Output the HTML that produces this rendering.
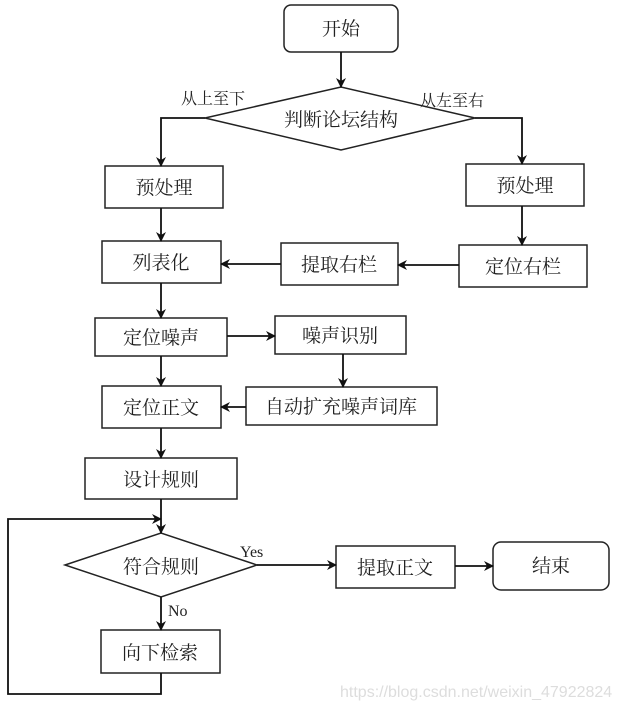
<!DOCTYPE html>
<html><head><meta charset="utf-8"><style>
html,body{margin:0;padding:0;background:#fff;}
svg{display:block;}
text{font-family:"Liberation Serif","Noto Serif CJK SC","Noto Sans CJK SC",serif;fill:#222;}
</style></head><body>
<svg width="620" height="709" viewBox="0 0 620 709" xmlns="http://www.w3.org/2000/svg">
<defs><marker id="a" markerWidth="10" markerHeight="10" refX="9" refY="5" orient="auto" markerUnits="userSpaceOnUse"><path d="M0,0 L10,5 L0,10 L3,5 z" fill="#111"/></marker></defs>
<g fill="none" stroke="#222" stroke-width="1.5">
<rect x="284" y="5" width="114" height="47" rx="7"/>
<polygon points="205,118 341,87 475,118 341,150"/>
<rect x="105" y="166" width="118" height="42"/>
<rect x="466" y="164" width="118" height="42"/>
<rect x="102" y="241" width="119" height="42"/>
<rect x="281" y="243" width="117" height="42"/>
<rect x="459" y="245" width="128" height="42"/>
<rect x="95" y="318" width="132" height="38"/>
<rect x="275" y="316" width="131" height="38"/>
<rect x="102" y="386" width="119" height="42"/>
<rect x="246" y="387" width="191" height="38"/>
<rect x="85" y="458" width="152" height="41"/>
<polygon points="65,565 161,533 257,565 161,597"/>
<rect x="336" y="546" width="119" height="42"/>
<rect x="493" y="542" width="116" height="48" rx="8"/>
<rect x="101" y="630" width="119" height="43"/>
</g>
<g fill="none" stroke="#111" stroke-width="1.8">
<line x1="341" y1="52" x2="341" y2="87" marker-end="url(#a)"/>
<polyline points="205,118 161,118 161,166" marker-end="url(#a)"/>
<polyline points="475,118 522,118 522,164" marker-end="url(#a)"/>
<line x1="161" y1="208" x2="161" y2="241" marker-end="url(#a)"/>
<line x1="522" y1="206" x2="522" y2="245" marker-end="url(#a)"/>
<line x1="459" y1="265" x2="398" y2="265" marker-end="url(#a)"/>
<line x1="281" y1="264" x2="221" y2="264" marker-end="url(#a)"/>
<line x1="161" y1="283" x2="161" y2="318" marker-end="url(#a)"/>
<line x1="227" y1="336" x2="275" y2="336" marker-end="url(#a)"/>
<line x1="343" y1="354" x2="343" y2="387" marker-end="url(#a)"/>
<line x1="161" y1="356" x2="161" y2="386" marker-end="url(#a)"/>
<line x1="246" y1="407" x2="221" y2="407" marker-end="url(#a)"/>
<line x1="161" y1="428" x2="161" y2="458" marker-end="url(#a)"/>
<line x1="161" y1="499" x2="161" y2="533" marker-end="url(#a)"/>
<polyline points="161,673 161,694 8,694 8,519 161,519" marker-end="url(#a)"/>
<line x1="161" y1="597" x2="161" y2="630" marker-end="url(#a)"/>
<line x1="257" y1="565" x2="336" y2="565" marker-end="url(#a)"/>
<line x1="455" y1="566" x2="493" y2="566" marker-end="url(#a)"/>
</g>
<g font-size="19" text-anchor="middle">
<text x="341" y="35">开始</text>
<text x="341" y="126">判断论坛结构</text>
<text x="164" y="194">预处理</text>
<text x="525" y="192">预处理</text>
<text x="161" y="269">列表化</text>
<text x="339" y="271">提取右栏</text>
<text x="523" y="273">定位右栏</text>
<text x="161" y="344">定位噪声</text>
<text x="340" y="342">噪声识别</text>
<text x="161" y="414">定位正文</text>
<text x="341" y="413">自动扩充噪声词库</text>
<text x="161" y="486">设计规则</text>
<text x="161" y="573">符合规则</text>
<text x="395" y="574">提取正文</text>
<text x="551" y="572">结束</text>
<text x="160" y="659">向下检索</text>
</g>
<g font-size="16">
<text x="181" y="104">从上至下</text>
<text x="420" y="106">从左至右</text>
<text x="240" y="557">Yes</text>
<text x="168" y="616">No</text>
</g>
<text x="340" y="697" font-size="16" style="font-family:'Liberation Sans',sans-serif;fill:#ddd">https://blog.csdn.net/weixin_47922824</text>
</svg>
</body></html>
